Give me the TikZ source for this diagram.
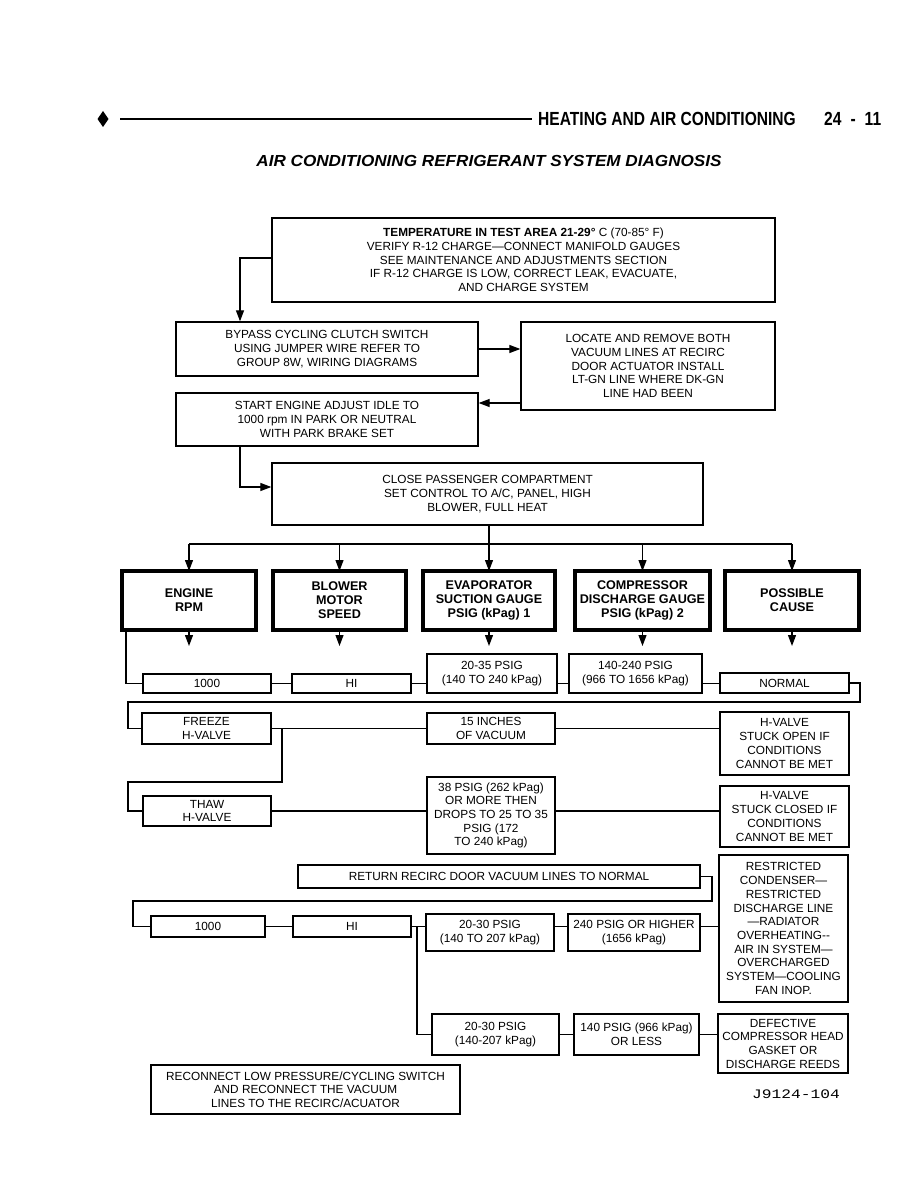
\documentclass[tikz,border=0pt]{standalone}
\usepackage{fontspec}
\setmainfont{Liberation Sans}
\newfontfamily\hdfont{Liberation Sans}[FakeStretch=0.82]
\newfontfamily\ttlfont{Liberation Sans}[FakeStretch=1.07]
\newfontfamily\jfont{Liberation Mono}[FakeStretch=1.25]
\usetikzlibrary{arrows.meta}
\newcommand\fsz{\fontsize{11.8}{13.7}\selectfont}
\tikzset{
  box/.style={draw, line width=1.3pt, align=center, inner sep=0pt, font=\fsz},
  hbox/.style={draw, line width=4pt, align=center, inner sep=0pt, font=\fontsize{12.6}{14}\selectfont\bfseries, minimum height=59pt},
  conn/.style={line width=1.2pt},
  arr/.style={line width=1.2pt, -{Triangle[length=11pt,width=8pt]}},
}
\begin{document}
\begin{tikzpicture}[x=1pt,y=-1pt]
\useasboundingbox (0,0) rectangle (918,1188);
% page header
\fill (103,111) -- (108.5,119) -- (103,127) -- (97.5,119) -- cycle;
\draw[line width=1.6pt] (120,119) -- (532,119);
\node[anchor=west, inner sep=0pt, font=\hdfont\bfseries\fontsize{19}{19}\selectfont] (hd) at (538,119) {HEATING AND AIR CONDITIONING};
\node[anchor=west, inner sep=0pt, font=\hdfont\bfseries\fontsize{19}{19}\selectfont] (pg) at (824,119) {24\hspace{9pt}-\hspace{9pt}11};
\node[inner sep=0pt, font=\ttlfont\bfseries\itshape\fontsize{16}{18}\selectfont] (title) at (489,161) {AIR CONDITIONING REFRIGERANT SYSTEM DIAGNOSIS};

% top chain
\node[box, minimum width=503pt, minimum height=84pt] (temp) at (523.5,260) {\textbf{TEMPERATURE IN TEST AREA 21-29°} C (70-85° F)\\VERIFY R-12 CHARGE—CONNECT MANIFOLD GAUGES\\SEE MAINTENANCE AND ADJUSTMENTS SECTION\\IF R-12 CHARGE IS LOW, CORRECT LEAK, EVACUATE,\\AND CHARGE SYSTEM};
\node[box, minimum width=302pt, minimum height=54pt] (bypass) at (327,349) {BYPASS CYCLING CLUTCH SWITCH\\USING JUMPER WIRE REFER TO\\GROUP 8W, WIRING DIAGRAMS};
\node[box, minimum width=254pt, minimum height=88pt] (locate) at (648,366) {LOCATE AND REMOVE BOTH\\VACUUM LINES AT RECIRC\\DOOR ACTUATOR INSTALL\\LT-GN LINE WHERE DK-GN\\LINE HAD BEEN};
\node[box, minimum width=302pt, minimum height=53pt] (start) at (327,419.5) {START ENGINE ADJUST IDLE TO\\1000 rpm IN PARK OR NEUTRAL\\WITH PARK BRAKE SET};
\node[box, minimum width=431pt, minimum height=62pt] (close) at (487.5,494) {CLOSE PASSENGER COMPARTMENT\\SET CONTROL TO A/C, PANEL, HIGH\\BLOWER, FULL HEAT};

\draw[arr] (temp.west |- 0,258) -| (bypass.north -| 240,0);
\draw[arr] (bypass.east) -- (bypass.east -| locate.west);
\draw[arr] (locate.west |- 0,403) -- (start.east |- 0,403);
\draw[arr] (start.south -| 240,0) |- (close.west |- 0,487);

% header boxes
\node[hbox, minimum width=134pt] (engine) at (189,600.5) {ENGINE\\RPM};
\node[hbox, minimum width=133pt] (blower) at (339.5,600.5) {BLOWER\\MOTOR\\SPEED};
\node[hbox, minimum width=132pt] (evap) at (489,600.5) {EVAPORATOR\\SUCTION GAUGE\\PSIG (kPag) 1};
\node[hbox, minimum width=135pt] (compr) at (642.5,600.5) {COMPRESSOR\\DISCHARGE GAUGE\\PSIG (kPag) 2};
\node[hbox, minimum width=134pt] (cause) at (792,600.5) {POSSIBLE\\CAUSE};

\coordinate (bus) at (0,544);
\draw[conn] (engine.north |- bus) -- (cause.north |- bus);
\draw[arr] (evap.north |- close.south) -- ([yshift=-2pt]evap.north);
\foreach \n in {engine,blower,compr,cause}
  \draw[arr] (\n.north |- bus) -- ([yshift=-2pt]\n.north);
\foreach \n in {engine,blower,evap,compr,cause}
  \draw[arr] ([yshift=2pt]\n.south) -- ++(0,16);

% row 1
\node[box, minimum width=128pt, minimum height=19pt] (r1a) at (207,683.5) {1000};
\node[box, minimum width=119pt, minimum height=19pt] (r1b) at (351.5,683.5) {HI};
\node[box, minimum width=130pt, minimum height=39pt] (r1c) at (492,673.5) {20-35 PSIG\\(140 TO 240 kPag)};
\node[box, minimum width=133pt, minimum height=39pt] (r1d) at (635.5,673.5) {140-240 PSIG\\(966 TO 1656 kPag)};
\node[box, minimum width=129pt, minimum height=20pt] (r1e) at (784.5,683) {NORMAL};

\draw[conn] ([xshift=6pt]engine.south west) |- (r1a.west);
\draw[conn] (r1a.east) -- (r1b.west);
\draw[conn] (r1b.east) -- (r1b.east -| r1c.west);
\draw[conn] (r1b.east -| r1c.east) -- (r1b.east -| r1d.west);
\draw[conn] (r1b.east -| r1d.east) -- (r1b.east -| r1e.west);

% row 2
\node[box, minimum width=129pt, minimum height=31pt] (freeze) at (206.5,728.5) {FREEZE\\H-VALVE};
\node[box, minimum width=128pt, minimum height=31pt] (vac) at (491,728.5) {15 INCHES\\OF VACUUM};
\node[box, minimum width=129pt, minimum height=63pt] (open) at (784.5,743.5) {H-VALVE\\STUCK OPEN IF\\CONDITIONS\\CANNOT BE MET};
\coordinate (l1) at (860,702);
\coordinate (l2) at (128,702);
\draw[conn] (r1e.east) -| (l1) -- (l2) |- (freeze.west);
\draw[conn] (freeze.east) -- (vac.west);
\draw[conn] (vac.east) -- (vac.east -| open.west);

% row 3
\node[box, minimum width=128pt, minimum height=30pt] (thaw) at (207,811) {THAW\\H-VALVE};
\node[box, minimum width=128pt, minimum height=77pt] (p38) at (491,815.5) {38 PSIG (262 kPag)\\OR MORE THEN\\DROPS TO 25 TO 35\\PSIG (172\\TO 240 kPag)};
\node[box, minimum width=129pt, minimum height=61pt] (closed) at (784.5,816.5) {H-VALVE\\STUCK CLOSED IF\\CONDITIONS\\CANNOT BE MET};
\coordinate (j1) at (282,728.5);
\coordinate (l3) at (282,782);
\coordinate (l4) at (128,782);
\draw[conn] (j1) -- (l3) -- (l4) |- (thaw.west);
\draw[conn] (thaw.east) -- (thaw.east -| p38.west);
\draw[conn] (thaw.east -| p38.east) -- (thaw.east -| closed.west);

% return
\node[box, minimum width=402pt, minimum height=23pt] (ret) at (499,876.5) {RETURN RECIRC DOOR VACUUM LINES TO NORMAL};
\node[box, minimum width=129pt, minimum height=147pt] (restr) at (783.5,928.5) {RESTRICTED\\CONDENSER—\\RESTRICTED\\DISCHARGE LINE\\—RADIATOR\\OVERHEATING-{}-\\AIR IN SYSTEM—\\OVERCHARGED\\SYSTEM—COOLING\\FAN INOP.};

% row 4
\node[box, minimum width=114pt, minimum height=21pt] (r3a) at (208,926.5) {1000};
\node[box, minimum width=118pt, minimum height=21pt] (r3b) at (352,926.5) {HI};
\node[box, minimum width=128pt, minimum height=37pt] (r3c) at (490,932.5) {20-30 PSIG\\(140 TO 207 kPag)};
\node[box, minimum width=132pt, minimum height=37pt] (r3d) at (634,932.5) {240 PSIG OR HIGHER\\(1656 kPag)};
\coordinate (l5) at (712,901);
\coordinate (l6) at (133,901);
\draw[conn] (ret.east) -| (l5) -- (l6) |- (r3a.west);
\draw[conn] (r3a.east) -- (r3b.west);
\draw[conn] (r3b.east) -- (r3b.east -| r3c.west);
\draw[conn] (r3b.east -| r3c.east) -- (r3b.east -| r3d.west);
\draw[conn] (r3b.east -| r3d.east) -- (r3b.east -| restr.west);

% row 5
\node[box, minimum width=127pt, minimum height=41pt] (r4a) at (495.5,1034.5) {20-30 PSIG\\(140-207 kPag)};
\node[box, minimum width=125pt, minimum height=41pt] (r4b) at (636.5,1034.5) {140 PSIG (966 kPag)\\OR LESS};
\node[box, minimum width=130pt, minimum height=59pt] (defect) at (783,1043.5) {DEFECTIVE\\COMPRESSOR HEAD\\GASKET OR\\DISCHARGE REEDS};
\coordinate (j2) at (417,926.5);
\draw[conn] (j2) |- (r4a.west);
\draw[conn] (r4a.east) -- (r4b.west);
\draw[conn] (r4b.east) -- (r4b.east -| defect.west);

\node[box, minimum width=309pt, minimum height=49pt] (recon) at (305.5,1089.5) {RECONNECT LOW PRESSURE/CYCLING SWITCH\\AND RECONNECT THE VACUUM\\LINES TO THE RECIRC/ACUATOR};
\node[inner sep=0pt, font=\jfont\fontsize{13}{14}\selectfont] (code) at (796,1094) {J9124-104};
\end{tikzpicture}
\end{document}
